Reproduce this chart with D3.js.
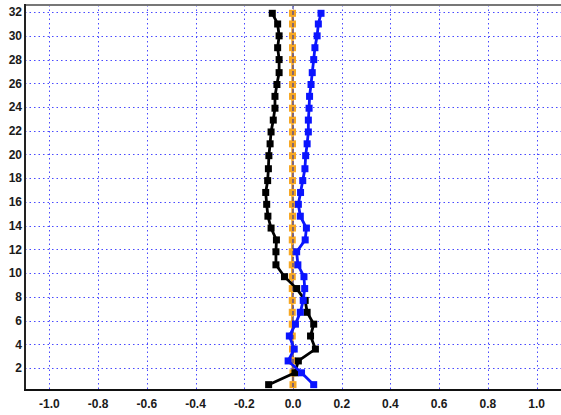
<!DOCTYPE html>
<html>
<head>
<meta charset="utf-8">
<script src="https://d3js.org/d3.v7.min.js"></script>
<style>
  body { margin: 0; background: #fff; }
  svg { display: block; }
  text { font-family: "Liberation Sans", Arial, sans-serif; font-weight: bold; font-size: 12px; fill: #1a1a1a; }
</style>
</head>
<body>
<svg width="561" height="415"></svg>
<script>
// heights of the levels (bottom to top)
var levels = [0.6, 1.6, 2.6, 3.6, 4.7, 5.7, 6.7, 7.7, 8.7, 9.7, 10.7, 11.8, 12.8, 13.8, 14.8, 15.8,
  16.8, 17.8, 18.8, 19.9, 20.9, 21.9, 22.9, 23.9, 24.9, 25.9, 26.9, 28.0, 29.0, 30.0, 31.0, 31.9];

var blackSeries = [-0.100, 0.008, 0.022, 0.092, 0.072, 0.085, 0.058, 0.050, 0.015, -0.035, -0.070,
  -0.070, -0.068, -0.090, -0.103, -0.108, -0.112, -0.104, -0.101, -0.099, -0.094, -0.090, -0.081,
  -0.074, -0.074, -0.066, -0.057, -0.057, -0.063, -0.057, -0.063, -0.085];

var blueSeries = [0.085, 0.035, -0.020, 0.005, -0.015, 0.010, 0.030, 0.042, 0.048, 0.045, 0.020,
  0.015, 0.050, 0.055, 0.030, 0.022, 0.031, 0.040, 0.049, 0.052, 0.058, 0.063, 0.063, 0.066,
  0.068, 0.074, 0.079, 0.085, 0.090, 0.099, 0.104, 0.115];

var orangeSeries = [0.000, 0.000, -0.002, -0.002, -0.003, -0.003, -0.003, -0.003, -0.003, -0.003,
  -0.003, -0.003, -0.003, -0.002, -0.002, -0.002, -0.002, -0.002, -0.002, -0.002, -0.002, -0.002,
  -0.002, -0.002, -0.002, -0.002, -0.002, -0.002, -0.002, -0.002, -0.002, -0.002];

var xTicks = [-1.0, -0.8, -0.6, -0.4, -0.2, 0.0, 0.2, 0.4, 0.6, 0.8, 1.0];
var yTicks = [2, 4, 6, 8, 10, 12, 14, 16, 18, 20, 22, 24, 26, 28, 30, 32];

var svg = d3.select("svg"),
  plotLeft = 25,
  plotRight = 561,
  plotTop = 5,
  plotBottom = 390;

var x = d3.scaleLinear().domain([-1.1, 1.1]).range([plotLeft, plotRight]);
var y = d3.scaleLinear().domain([0.15, 32.6]).range([plotBottom, plotTop]);

// dotted grid
var grid = svg.append("g").attr("stroke", "#2a2aff").attr("stroke-width", 1)
  .attr("stroke-dasharray", "1.5,3").attr("opacity", 0.85);

grid.selectAll("line.v").data(xTicks).enter().append("line")
  .attr("class", "v")
  .attr("x1", function (d) { return Math.round(x(d)) + 0.5; })
  .attr("x2", function (d) { return Math.round(x(d)) + 0.5; })
  .attr("y1", plotTop).attr("y2", plotBottom);

grid.selectAll("line.h").data(yTicks).enter().append("line")
  .attr("class", "h")
  .attr("y1", function (d) { return Math.round(y(d)) + 0.5; })
  .attr("y2", function (d) { return Math.round(y(d)) + 0.5; })
  .attr("x1", plotLeft).attr("x2", plotRight);

function drawSeries(values, color, width, size) {
  var pts = values.map(function (v, i) { return [v, levels[i]]; });
  var line = d3.line()
    .x(function (d) { return x(d[0]); })
    .y(function (d) { return y(d[1]); });
  var g = svg.append("g");
  g.append("path")
    .attr("d", line(pts))
    .attr("fill", "none")
    .attr("stroke", color)
    .attr("stroke-width", width);
  g.selectAll("rect").data(pts).enter().append("rect")
    .attr("x", function (d) { return x(d[0]) - size / 2; })
    .attr("y", function (d) { return y(d[1]) - size / 2; })
    .attr("width", size)
    .attr("height", size)
    .attr("fill", color);
}

drawSeries(orangeSeries, "#f7a824", 2.5, 7);

// dashed zero line over the orange series
svg.append("line")
  .attr("x1", x(0)).attr("x2", x(0))
  .attr("y1", plotTop).attr("y2", plotBottom)
  .attr("stroke", "#3c3c9c")
  .attr("stroke-width", 1.2)
  .attr("stroke-dasharray", "4,2");

drawSeries(blackSeries, "#000000", 2.8, 7);
drawSeries(blueSeries, "#0a14ff", 2.8, 7);

// frame
svg.append("line").attr("x1", plotLeft).attr("x2", plotRight).attr("y1", plotTop).attr("y2", plotTop)
  .attr("stroke", "#777").attr("stroke-width", 2);
svg.append("line").attr("x1", plotLeft).attr("x2", plotLeft).attr("y1", plotTop - 1).attr("y2", plotBottom + 1)
  .attr("stroke", "#222").attr("stroke-width", 2);
svg.append("line").attr("x1", plotLeft - 1).attr("x2", plotRight).attr("y1", plotBottom).attr("y2", plotBottom)
  .attr("stroke", "#111").attr("stroke-width", 2);

// tick labels
svg.append("g").selectAll("text").data(yTicks).enter().append("text")
  .attr("x", 22)
  .attr("y", function (d) { return y(d); })
  .attr("dy", "0.35em")
  .attr("text-anchor", "end")
  .text(function (d) { return d; });

svg.append("g").selectAll("text").data(xTicks).enter().append("text")
  .attr("x", function (d) { return x(d); })
  .attr("y", 408)
  .attr("text-anchor", "middle")
  .text(function (d) { return d.toFixed(1); });
</script>
</body>
</html>
